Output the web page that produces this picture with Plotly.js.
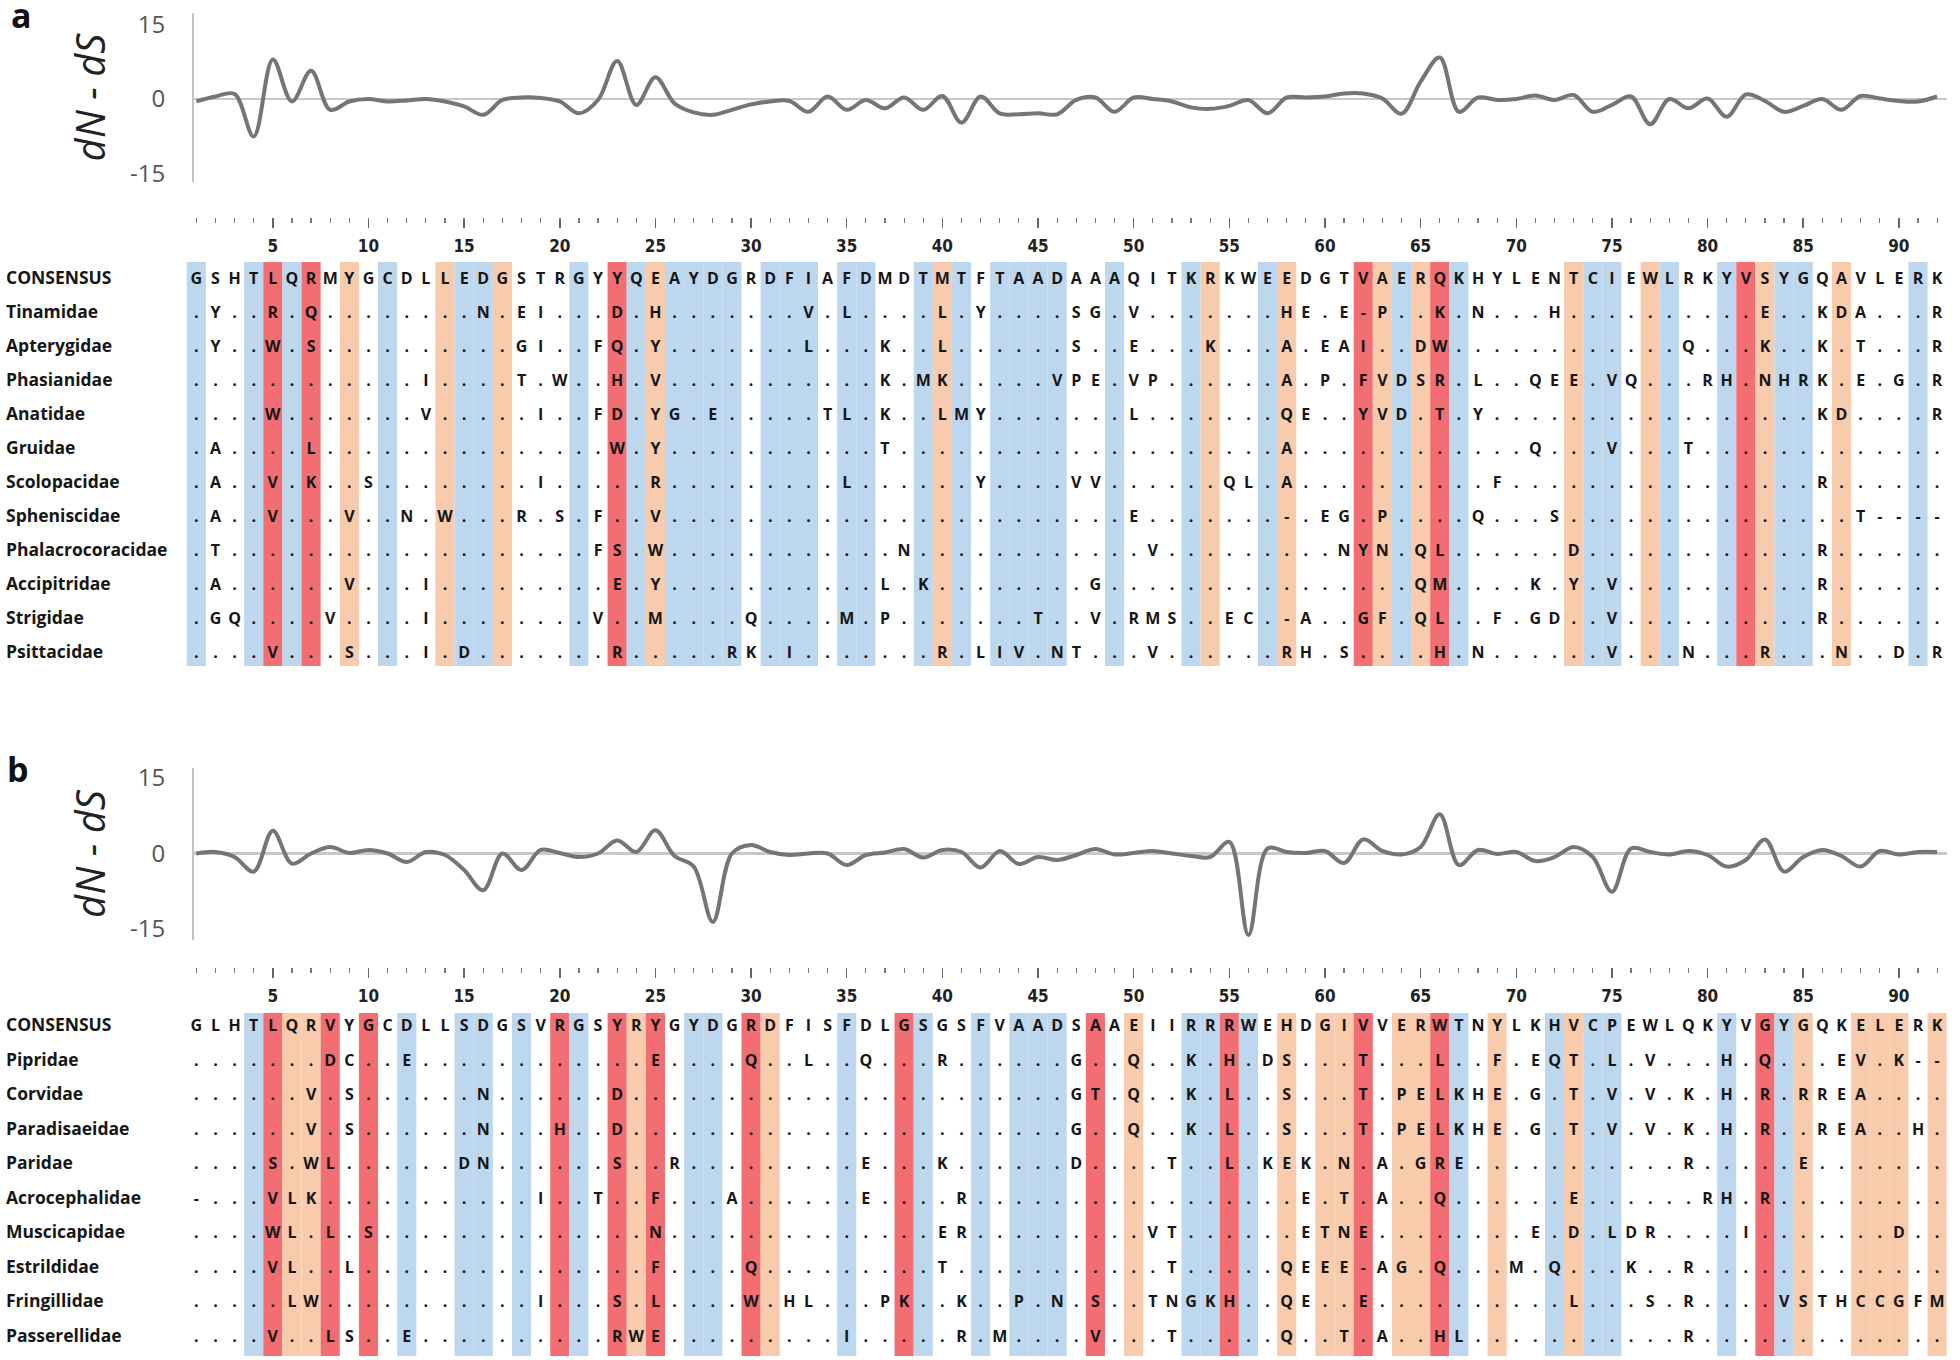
<!DOCTYPE html>
<html><head><meta charset="utf-8">
<script src="https://cdn.plot.ly/plotly-3.0.1.min.js"></script>
<style>html,body{margin:0;padding:0;background:#fff;} #chart{width:1960px;height:1360px;}</style>
</head><body><div id="chart"></div>
<script>
// ---------------- DATA ----------------
const positions = Array.from({length: 92}, (_, i) => i + 1);

const dndsA = [
  -0.5, 0.5, 1.0, -7.6, 8.0, -0.5, 5.7, -2.2, -0.5, 0.0,
  -0.5, -0.3, 0.0, -0.5, -1.5, -3.2, -0.2, 0.3, 0.2, -0.5,
  -2.9, -0.2, 7.7, -1.2, 4.4, -0.9, -2.7, -3.2, -2.2, -1.1,
  -0.5, -0.4, -2.6, 0.5, -2.2, -0.2, -1.9, 0.3, -2.2, 0.6,
  -4.8, 0.5, -2.9, -3.1, -2.9, -3.1, -0.2, 0.3, -2.6, 0.3,
  0.0, -0.5, -1.7, -2.0, -1.4, -0.2, -2.9, 0.3, 0.3, 0.5,
  1.1, 1.1, 0.1, -3.0, 3.5, 8.4, -2.6, 0.3, -0.2, 0.0,
  0.7, -0.2, 0.8, -2.6, -1.2, 0.5, -5.1, 0.0, -1.9, 0.1,
  -3.6, 0.9, -0.4, -2.6, -1.4, 0.0, -2.2, 0.6, 0.1, -0.4,
  -0.5, 0.5];

const dndsB = [
  0.0, 0.3, -0.7, -3.6, 4.5, -2.0, 0.0, 1.3, 0.1, 0.7,
  0.0, -1.7, 0.3, -0.3, -3.3, -7.3, 0.0, -3.3, 0.7, 0.1,
  -0.7, 0.0, 2.6, 0.3, 4.6, -0.5, -2.6, -13.6, 0.0, 1.7,
  0.3, -0.3, 0.0, 0.0, -2.3, -0.3, 0.2, 0.9, -0.8, 0.7,
  0.3, -2.8, 0.5, -2.1, -0.7, -1.3, -0.3, 0.9, -0.2, 0.1,
  0.5, 0.0, -0.5, -0.7, 2.3, -16.2, 1.0, 0.3, 0.1, 0.5,
  -1.9, 2.8, 0.5, -0.2, 1.3, 7.8, -2.3, 0.7, -0.1, 0.3,
  -1.5, -0.7, 1.3, -0.7, -7.6, 1.0, 0.3, -0.2, 0.5, -0.3,
  -2.6, -1.3, 2.8, -3.6, -0.7, 0.7, -0.5, -2.6, 0.5, -0.2,
  0.3, 0.3];

const consensusA = "GSHTLQRMYG CDLLEDGSTR GYYQEAYDGR DFIAFDMDTM TFTAADAAAQ ITKRKWEEDG TVAERQKHYL ENTCIEWLRK YVSYGQAVLE RK";
const taxaA = ["Tinamidae","Apterygidae","Phasianidae","Anatidae","Gruidae","Scolopacidae",
  "Spheniscidae","Phalacrocoracidae","Accipitridae","Strigidae","Psittacidae"];
const seqA = [
  ".Y..R.Q... .....N.EI. ..D.H..... ..V.L....L .Y....SG.V .......HE. E-P..K.N.. .H........ ..E..KDA.. .R",
  ".Y..W.S... .......GI. .FQ.Y..... ..L...K..L ......S..E ...K...A.E AI..DW.... ........Q. ..K..K.T.. .R",
  ".......... ..I....T.W ..H.V..... ......K.MK .....VPE.V P......A.P .FVDSR.L.. QEE.VQ...R H.NHRK.E.G .R",
  "....W..... ..V.....I. .FD.YG.E.. ...TL.K..L MY.......L .......QE. .YVD.T.Y.. .......... .....KD... .R",
  ".A....L... .......... ..W.Y..... ......T... .......... .......A.. .......... Q...V...T. .......... ..",
  ".A..V.K..S ........I. ....R..... ....L..... .Y....VV.. ....QL.A.. ........F. .......... .....R.... ..",
  ".A..V...V. .N.W...R.S .F..V..... .......... .........E .......-.E G.P....Q.. .S........ .......T-- --",
  ".T........ .......... .FS.W..... .......N.. .......... V......... NYN.QL.... ..D....... .....R.... ..",
  ".A......V. ..I....... ..E.Y..... ......L.K. .......G.. .......... ....QM.... K.Y.V..... .....R.... ..",
  ".GQ....V.. ..I....... .V..M....Q ....M.P... ....T..V.R MS..EC.-A. .GF.QL..F. GD..V..... .....R.... ..",
  "....V...S. ..I.D..... ..R.....RK .I.......R .LIV.NT... V......RH. S....H.N.. ....V...N. ..R...N..D .R"];
// B = blue, P = peach, R = red, . = none
const bandsA = "B..BRBR.P. B..PBBP... B.RBPBBBB. BBB.BB..BP B.BBBB..B. ..BP..BP.. .RPBPRB... ..PBB.PB.. BRPBB.P... B.";

const consensusB = "GLHTLQRVYG CDLLSDGSVR GSYRYGYDGR DFISFDLGSG SFVAADSAAE IIRRRWEHDG IVVERWTNYL KHVCPEWLQK YVGYGQKELE RK";
const taxaB = ["Pipridae","Corvidae","Paradisaeidae","Paridae","Acrocephalidae","Muscicapidae",
  "Estrildidae","Fringillidae","Passerellidae"];
const seqB = [
  ".......DC. .E........ ....E....Q ..L..Q...R ......G..Q ..K.H.DS.. .T...L..F. EQT.L.V... H.Q...EV.K --",
  "......V.S. .....N.... ..D....... .......... ......GT.Q ..K.L..S.. .T.PELKHE. G.T.V.V.K. H.R.RREA.. ..",
  "......V.S. .....N...H ..D....... .......... ......G..Q ..K.L..S.. .T.PELKHE. G.T.V.V.K. H.R..REA.. H.",
  "....S.WL.. ....DN.... ..S..R.... .....E...K ......D... .T..L.KEK. N.A.GRE... ........R. ....E..... ..",
  "-...VLK... ........I. .T..F...A. .....E.... R......... ........E. T.A..Q.... ..E......R H.R....... ..",
  "....WL.L.S .......... ....N..... .........E R......... VT......ET NE........ E.D.LDR... .I.......D ..",
  "....VL..L. .......... ....F....Q .........T .......... .T.....QEE E-AG.Q...M .Q...K..R. .......... ..",
  ".....LW... ........I. ..S.L....W .HL...PK.. K..P.N.S.. TNGKH..QE. .E........ ..L...S.R. ...VSTHCCG FM",
  "....V..LS. .E........ ..RWE..... ....I..... R.M....V.. .T.....Q.. T.A..HL... ........R. .......... .."];
const bandsB = "...BRPPR.R .B..BB.B.R B.RPR.BB.R P...B..RB. .B.BBB.R.P ..BBRB.P.P PR.PPRB.P. .BPBB..... B.RBP..PPP .P";

const xTickLabels = positions.filter(p => p % 5 === 0).map(String);
const yTickLabels = ["-15", "0", "15"];
const yTickVals = [-15, 0, 15];

// ---------------- STYLE / GEOMETRY ----------------
const W = 1960, H = 1360;
const COL1 = 196.3, COLW = 19.13;
const pxCol = px => 1 + (px - COL1) / COLW;
const colPx = c => COL1 + (c - 1) * COLW;
const pY = px => 1 - px / H;
const pX = px => px / W;
const BAND = {B: '#BDD7EE', P: '#F8CBAD', R: '#F26E73'};
const TXT = '#161616';
const SEQFONT = {family: 'Open Sans, DejaVu Sans, sans-serif', size: 16, color: TXT, weight: 700};
const LABFONT = {family: 'Open Sans, DejaVu Sans, sans-serif', size: 17.5, color: TXT, weight: 700};
const NUMFONT = {family: 'DejaVu Sans Condensed, Liberation Sans Narrow, Roboto Condensed, Arial Narrow, Roboto, sans-serif',
  size: 17, color: '#222', weight: 700, stretch: 'condensed'};
const YTFONT = {family: 'Open Sans, Liberation Sans, sans-serif', size: 24, color: '#555'};

const traces = [];

function addAlignment(consensus, taxa, seqs, bands, xa, ya, yRange) {
  const rows = [consensus].concat(seqs).map(s => s.replace(/ /g, ''));
  const names = ['CONSENSUS'].concat(taxa);
  const cls = bands.replace(/ /g, '');
  const bx = [], bcol = [];
  for (let i = 0; i < cls.length; i++) {
    if (cls[i] !== '.') { bx.push(i + 1); bcol.push(BAND[cls[i]]); }
  }
  const lo = Math.min(yRange[0], yRange[1]), hi = Math.max(yRange[0], yRange[1]);
  traces.push({type: 'bar', x: bx, y: bx.map(() => hi - lo), base: lo, width: 1,
    marker: {color: bcol, line: {width: 0}}, xaxis: xa, yaxis: ya, hoverinfo: 'skip', showlegend: false});
  const tx = [], ty = [], tt = [];
  rows.forEach((s, r) => {
    for (let i = 0; i < s.length; i++) { tx.push(i + 1); ty.push(r); tt.push(s[i]); }
  });
  traces.push({type: 'scatter', mode: 'text', x: tx, y: ty, text: tt, textposition: 'middle center',
    textfont: SEQFONT, xaxis: xa, yaxis: ya, hoverinfo: 'skip', showlegend: false, cliponaxis: false});
  traces.push({type: 'scatter', mode: 'text', x: names.map(() => pxCol(6)), y: names.map((_, r) => r),
    text: names, textposition: 'middle right', textfont: LABFONT, xaxis: xa, yaxis: ya,
    hoverinfo: 'skip', showlegend: false, cliponaxis: false});
}

// line charts
traces.push({type: 'scatter', mode: 'lines', x: positions, y: dndsA, xaxis: 'x', yaxis: 'y',
  line: {color: '#757575', width: 4, shape: 'spline', smoothing: 1}, hoverinfo: 'skip', showlegend: false});
traces.push({type: 'scatter', mode: 'lines', x: positions, y: dndsB, xaxis: 'x2', yaxis: 'y2',
  line: {color: '#757575', width: 4, shape: 'spline', smoothing: 1}, hoverinfo: 'skip', showlegend: false});

// alignment rows: panel a rows at 280 + 34 r px ; panel b rows at 1027 + 34.5 r px
const yrA = [(666 - 280) / 34, (262 - 280) / 34];
const yrB = [(1356 - 1027) / 34.5, (1013 - 1027) / 34.5];
addAlignment(consensusA, taxaA, seqA, bandsA, 'x3', 'y3', yrA);
addAlignment(consensusB, taxaB, seqB, bandsB, 'x4', 'y4', yrB);

const lineXDomain = [pX(194), pX(colPx(92.5))];
const lineXRange = [pxCol(194), 92.5];

function lineX(posPx) {
  return {domain: lineXDomain, range: lineXRange, anchor: 'free', position: pY(posPx),
    showline: false, showgrid: false, zeroline: false,
    ticks: 'outside', ticklen: 10, tickwidth: 1.5, tickcolor: '#666',
    tickmode: 'array', tickvals: positions.filter(p => p % 5 === 0), ticktext: xTickLabels,
    minor: {tickmode: 'linear', tick0: 0, dtick: 1, ticks: 'outside', ticklen: 5, tickwidth: 1.2, tickcolor: '#777'},
    tickfont: NUMFONT, ticklabelstandoff: 4, fixedrange: true};
}
function lineY(topPx, botPx, range, anchor) {
  return {domain: [pY(botPx), pY(topPx)], range: range, anchor: anchor,
    showline: true, linecolor: '#C4C4C4', linewidth: 2,
    zeroline: true, zerolinecolor: '#C8C8C8', zerolinewidth: 2.5,
    showgrid: false, ticks: '', tickmode: 'array', tickvals: yTickVals, ticktext: yTickLabels,
    tickfont: YTFONT, ticklabelstandoff: 22,
    title: {text: 'dN - dS', standoff: 12,
      font: {family: 'Open Sans, DejaVu Sans, sans-serif', size: 40, style: 'italic', color: '#222'}},
    fixedrange: true};
}

const layout = {
  width: W, height: H, margin: {l: 0, r: 0, t: 0, b: 0},
  paper_bgcolor: '#fff', plot_bgcolor: 'rgba(0,0,0,0)', showlegend: false, hovermode: false,
  xaxis: lineX(217),
  yaxis: lineY(13, 182, [-16.8, 17.4], 'x'),
  xaxis2: lineX(967),
  yaxis2: lineY(768, 940, [-17.2, 17.0], 'x2'),
  xaxis3: {domain: [0, 1], range: [pxCol(0), pxCol(W)], visible: false, anchor: 'y3', fixedrange: true},
  yaxis3: {domain: [pY(666), pY(262)], range: yrA, visible: false, anchor: 'x3', fixedrange: true},
  xaxis4: {domain: [0, 1], range: [pxCol(0), pxCol(W)], visible: false, anchor: 'y4', fixedrange: true},
  yaxis4: {domain: [pY(1356), pY(1013)], range: yrB, visible: false, anchor: 'x4', fixedrange: true},
  annotations: [
    {text: 'a', xref: 'paper', yref: 'paper', x: pX(21), y: pY(15), showarrow: false,
      xanchor: 'center', yanchor: 'middle', font: {family: 'Open Sans, DejaVu Sans, sans-serif', size: 34, weight: 700, color: '#111'}},
    {text: 'b', xref: 'paper', yref: 'paper', x: pX(18), y: pY(769), showarrow: false,
      xanchor: 'center', yanchor: 'middle', font: {family: 'Open Sans, DejaVu Sans, sans-serif', size: 34, weight: 700, color: '#111'}}
  ]
};

Plotly.newPlot('chart', traces, layout, {staticPlot: true, displayModeBar: false});
</script>
</body></html>
